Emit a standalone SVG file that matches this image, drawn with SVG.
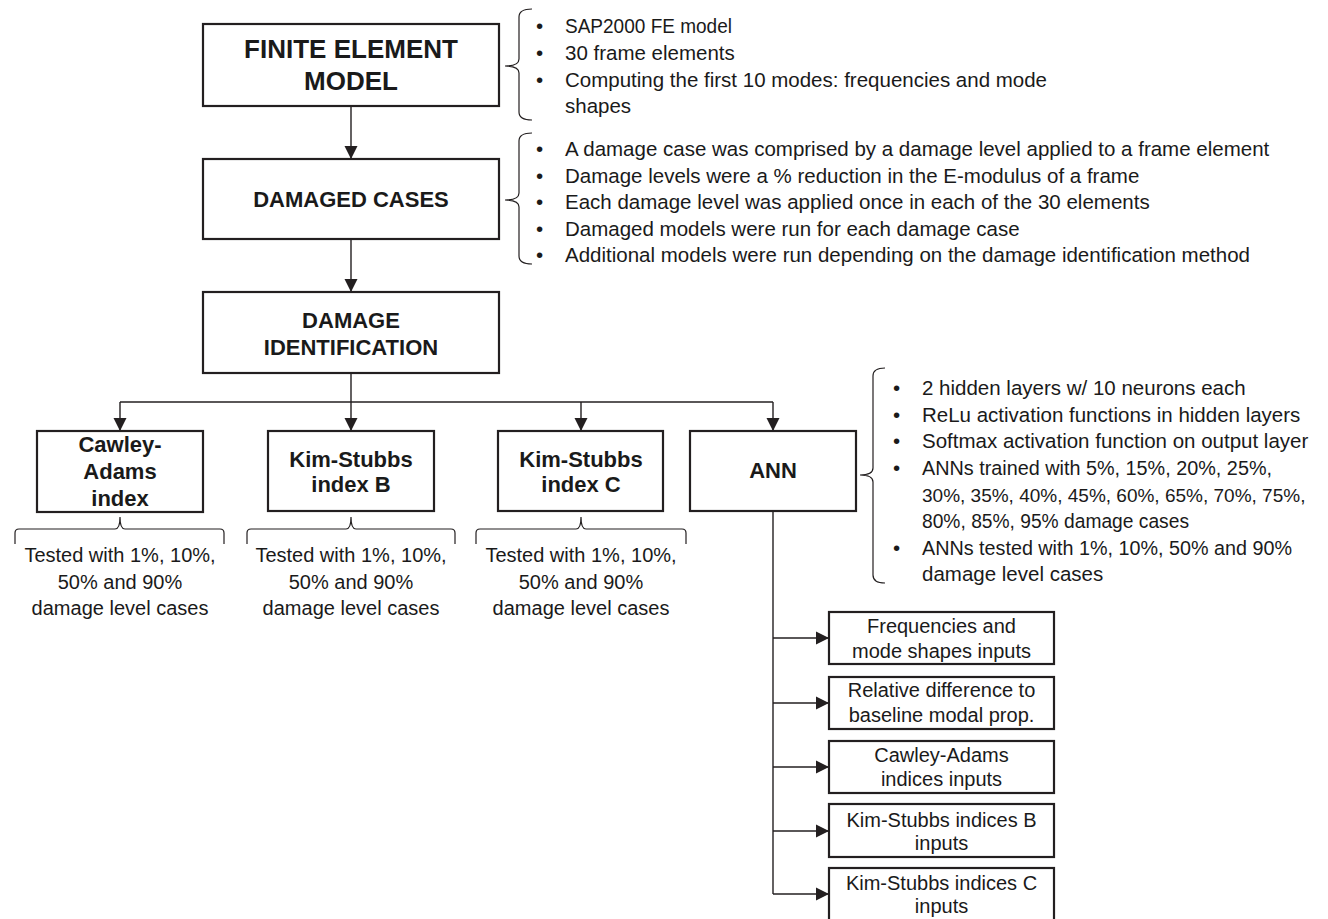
<svg xmlns="http://www.w3.org/2000/svg" width="1328" height="919" viewBox="0 0 1328 919">
<style>
.box{fill:#fff;stroke:#231f20;stroke-width:2.2}
.hd{font-family:"Liberation Sans",Arial,sans-serif;font-weight:bold;fill:#1a1a1a;text-anchor:middle}
.bx{font-family:"Liberation Sans",Arial,sans-serif;font-size:20px;fill:#1a1a1a;text-anchor:middle}
.nt{font-family:"Liberation Sans",Arial,sans-serif;font-size:20.5px;fill:#1a1a1a}
.cap{font-family:"Liberation Sans",Arial,sans-serif;font-size:20px;fill:#1a1a1a;text-anchor:middle}
.con{fill:none;stroke:#231f20;stroke-width:1.4}
.br{fill:none;stroke:#231f20;stroke-width:1.2}
</style>
<defs>
<marker id="ah" markerUnits="userSpaceOnUse" markerWidth="14" markerHeight="14" refX="13" refY="7" orient="auto">
<path d="M0,0.5 L13,7 L0,13.5 z" fill="#231f20"/>
</marker>
</defs>
<rect width="1328" height="919" fill="#fff"/>

<g id="connectors">
<path class="con" d="M351,106 V159" marker-end="url(#ah)"/>
<path class="con" d="M351,239 V292" marker-end="url(#ah)"/>
<path class="con" d="M351,373 V402"/>
<path class="con" d="M120,402 H773"/>
<path class="con" d="M120,402 V431" marker-end="url(#ah)"/>
<path class="con" d="M351,402 V431" marker-end="url(#ah)"/>
<path class="con" d="M581,402 V431" marker-end="url(#ah)"/>
<path class="con" d="M773,402 V431" marker-end="url(#ah)"/>
<path class="con" d="M773,511 V894"/>
<path class="con" d="M773,638 H829" marker-end="url(#ah)"/>
<path class="con" d="M773,703 H829" marker-end="url(#ah)"/>
<path class="con" d="M773,767 H829" marker-end="url(#ah)"/>
<path class="con" d="M773,831 H829" marker-end="url(#ah)"/>
<path class="con" d="M773,894 H829" marker-end="url(#ah)"/>
</g>

<g id="fem">
<rect class="box" x="203" y="24" width="296" height="82"/>
<text class="hd" font-size="26" x="351" y="58">FINITE ELEMENT</text>
<text class="hd" font-size="26" x="351" y="90">MODEL</text>
</g>
<g id="fem-notes">
<path class="br" d="M532,9 Q519,9 519,17 L519,59 Q519,66 505,66 Q519,66 519,73 L519,112 Q519,120 532,120"/>
<text class="nt" x="536" y="33">•</text><text class="nt" x="565" y="33" textLength="167" lengthAdjust="spacingAndGlyphs">SAP2000 FE model</text>
<text class="nt" x="536" y="60">•</text><text class="nt" x="565" y="60">30 frame elements</text>
<text class="nt" x="536" y="87">•</text><text class="nt" x="565" y="87">Computing the first 10 modes: frequencies and mode</text>
<text class="nt" x="565" y="113">shapes</text>
</g>

<g id="dc">
<rect class="box" x="203" y="159" width="296" height="80"/>
<text class="hd" font-size="22" x="351" y="207">DAMAGED CASES</text>
</g>
<g id="dc-notes">
<path class="br" d="M532,133 Q519,133 519,141 L519,193 Q519,200 505,200 Q519,200 519,207 L519,256 Q519,264 532,264"/>
<text class="nt" x="536" y="156">•</text><text class="nt" x="565" y="156">A damage case was comprised by a damage level applied to a frame element</text>
<text class="nt" x="536" y="183">•</text><text class="nt" x="565" y="183">Damage levels were a % reduction in the E-modulus of a frame</text>
<text class="nt" x="536" y="209">•</text><text class="nt" x="565" y="209">Each damage level was applied once in each of the 30 elements</text>
<text class="nt" x="536" y="236">•</text><text class="nt" x="565" y="236">Damaged models were run for each damage case</text>
<text class="nt" x="536" y="262">•</text><text class="nt" x="565" y="262">Additional models were run depending on the damage identification method</text>
</g>

<g id="di">
<rect class="box" x="203" y="292" width="296" height="81"/>
<text class="hd" font-size="22" x="351" y="328">DAMAGE</text>
<text class="hd" font-size="22" x="351" y="355">IDENTIFICATION</text>
</g>

<g id="cawley">
<rect class="box" x="37" y="431" width="166" height="81"/>
<text class="hd" font-size="22" x="120" y="452">Cawley-</text>
<text class="hd" font-size="22" x="120" y="479">Adams</text>
<text class="hd" font-size="22" x="120" y="506">index</text>
</g>
<g id="cawley-notes">
<path class="br" d="M15,544 L15,533 Q15,529 19,529 L115,529 Q120,529 120,517 Q120,529 125,529 L220,529 Q224,529 224,533 L224,544"/>
<text class="cap" x="120" y="562">Tested with 1%, 10%,</text>
<text class="cap" x="120" y="589">50% and 90%</text>
<text class="cap" x="120" y="615">damage level cases</text>
</g>

<g id="ksb">
<rect class="box" x="268" y="431" width="166" height="80"/>
<text class="hd" font-size="22" x="351" y="467">Kim-Stubbs</text>
<text class="hd" font-size="22" x="351" y="492">index B</text>
</g>
<g id="ksb-notes">
<path class="br" d="M247,544 L247,533 Q247,529 251,529 L346,529 Q351,529 351,517 Q351,529 356,529 L451,529 Q455,529 455,533 L455,544"/>
<text class="cap" x="351" y="562">Tested with 1%, 10%,</text>
<text class="cap" x="351" y="589">50% and 90%</text>
<text class="cap" x="351" y="615">damage level cases</text>
</g>

<g id="ksc">
<rect class="box" x="498" y="431" width="165" height="80"/>
<text class="hd" font-size="22" x="581" y="467">Kim-Stubbs</text>
<text class="hd" font-size="22" x="581" y="492">index C</text>
</g>
<g id="ksc-notes">
<path class="br" d="M476,544 L476,533 Q476,529 480,529 L576,529 Q581,529 581,517 Q581,529 586,529 L682,529 Q686,529 686,533 L686,544"/>
<text class="cap" x="581" y="562">Tested with 1%, 10%,</text>
<text class="cap" x="581" y="589">50% and 90%</text>
<text class="cap" x="581" y="615">damage level cases</text>
</g>

<g id="ann">
<rect class="box" x="690" y="431" width="166" height="80"/>
<text class="hd" font-size="22" x="773" y="478">ANN</text>
</g>
<g id="ann-notes">
<path class="br" d="M885,368 Q873,368 873,376 L873,468 Q873,475 860,475 Q873,475 873,482 L873,575 Q873,583 885,583"/>
<text class="nt" x="893" y="395">•</text><text class="nt" x="922" y="395">2 hidden layers w/ 10 neurons each</text>
<text class="nt" x="893" y="422">•</text><text class="nt" x="922" y="422">ReLu activation functions in hidden layers</text>
<text class="nt" x="893" y="448">•</text><text class="nt" x="922" y="448">Softmax activation function on output layer</text>
<text class="nt" x="893" y="475">•</text><text class="nt" x="922" y="475" textLength="350" lengthAdjust="spacingAndGlyphs">ANNs trained with 5%, 15%, 20%, 25%,</text>
<text class="nt" x="922" y="502" style="font-size:19px">30%, 35%, 40%, 45%, 60%, 65%, 70%, 75%,</text>
<text class="nt" x="922" y="528" textLength="267" lengthAdjust="spacingAndGlyphs">80%, 85%, 95% damage cases</text>
<text class="nt" x="893" y="555">•</text><text class="nt" x="922" y="555" textLength="370" lengthAdjust="spacingAndGlyphs">ANNs tested with 1%, 10%, 50% and 90%</text>
<text class="nt" x="922" y="581">damage level cases</text>
</g>

<g id="in-freq">
<rect class="box" x="829" y="612" width="225" height="52"/>
<text class="bx" x="941.5" y="633">Frequencies and</text>
<text class="bx" x="941.5" y="658">mode shapes inputs</text>
</g>
<g id="in-rel">
<rect class="box" x="829" y="677" width="225" height="52"/>
<text class="bx" x="941.5" y="697">Relative difference to</text>
<text class="bx" x="941.5" y="722">baseline modal prop.</text>
</g>
<g id="in-ca">
<rect class="box" x="829" y="741" width="225" height="52"/>
<text class="bx" x="941.5" y="762">Cawley-Adams</text>
<text class="bx" x="941.5" y="786">indices inputs</text>
</g>
<g id="in-ksb">
<rect class="box" x="829" y="804" width="225" height="53"/>
<text class="bx" x="941.5" y="827">Kim-Stubbs indices B</text>
<text class="bx" x="941.5" y="850">inputs</text>
</g>
<g id="in-ksc">
<rect class="box" x="829" y="868" width="225" height="53"/>
<text class="bx" x="941.5" y="890">Kim-Stubbs indices C</text>
<text class="bx" x="941.5" y="913">inputs</text>
</g>
</svg>
